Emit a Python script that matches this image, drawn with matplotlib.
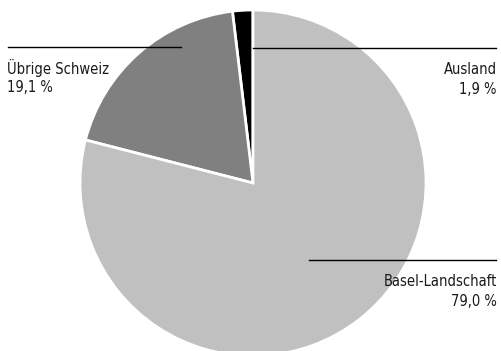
import matplotlib.pyplot as plt

# data
labels = ['Ausland', 'Übrige Schweiz', 'Basel-Landschaft']
shares = [1.9, 19.1, 79.0]
share_labels = ['1,9 %', '19,1 %', '79,0 %']
colors = ['#000000', '#808080', '#c0c0c0']

plt.rcParams['font.family'] = ['DejaVu Sans']
plt.rcParams['font.stretch'] = 'condensed'

W, H = 502, 351
fig = plt.figure(figsize=(W / 100, H / 100), dpi=100)
ax = fig.add_axes([0, 0, 1, 1])

cx, cy, r = 253, H - 183, 173
ax.pie(shares, colors=colors, startangle=90, counterclock=True,
       center=(cx, cy), radius=r, frame=True,
       wedgeprops=dict(edgecolor='white', linewidth=2))
ax.set_xlim(0, W)
ax.set_ylim(0, H)
ax.set_aspect('equal')
ax.axis('off')

# leader lines and labels (pixel positions, y from top)
def label(x0, x1, y_line, tx, ha, name, pct):
    ax.plot([x0, x1], [H - y_line, H - y_line], color='black', lw=1)
    ax.text(tx, H - (y_line + 21), name, ha=ha, va='center',
            fontsize=10.5, fontstretch='condensed', color='#1a1a1a')
    ax.text(tx, H - (y_line + 41), pct, ha=ha, va='center',
            fontsize=10.5, fontstretch='condensed', color='#1a1a1a')

label(8, 181, 47, 7, 'left', labels[1], share_labels[1])
label(253, 496, 48, 497, 'right', labels[0], share_labels[0])
label(309, 496, 260, 497, 'right', labels[2], share_labels[2])

fig.savefig('out.png', dpi=100)
